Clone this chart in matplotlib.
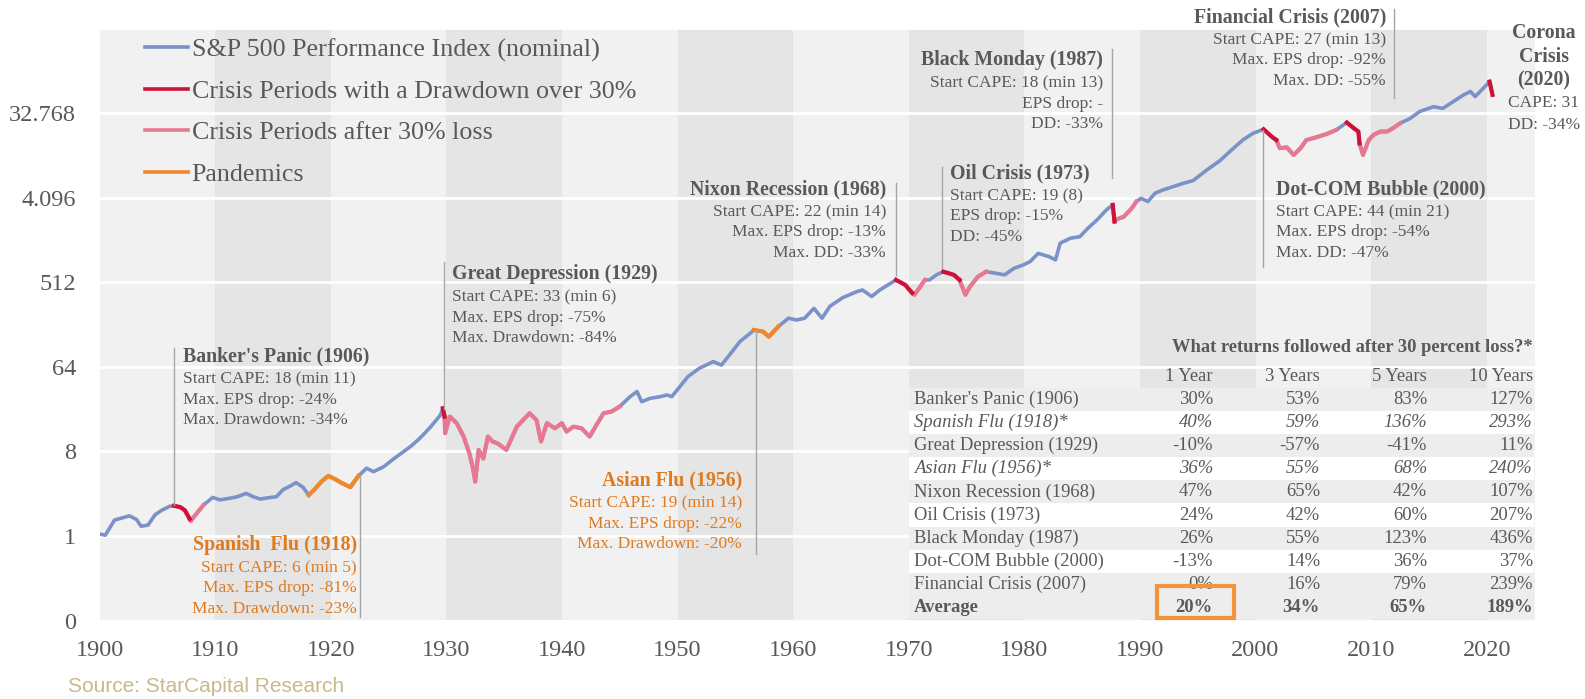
import matplotlib
matplotlib.use("Agg")
import matplotlib.pyplot as plt
from matplotlib.lines import Line2D
from matplotlib.patches import Rectangle
import numpy as np

plt.rcParams['font.family'] = ['Liberation Serif', 'DejaVu Serif']

# S&P 500 performance index (nominal)
years = [1900.0, 1900.5, 1901.3, 1901.9, 1902.6, 1903.2, 1903.6, 1904.2, 1904.8, 1905.4,
         1906.1, 1906.45, 1907.0, 1907.4, 1907.8, 1907.9, 1908.3, 1909.0, 1909.8, 1910.4,
         1911.3, 1911.9, 1912.7, 1913.3, 1913.9, 1914.7, 1915.3, 1915.9, 1916.5, 1917.0,
         1917.6, 1918.1, 1918.6, 1919.2, 1919.8, 1920.4, 1920.9, 1921.7, 1922.1, 1922.4,
         1923.1, 1923.7, 1924.6, 1925.4, 1926.3, 1926.9, 1927.7, 1928.6, 1929.5, 1929.7,
         1929.85, 1929.9, 1930.3, 1930.9, 1931.5, 1932.0, 1932.3, 1932.5, 1932.8, 1933.2,
         1933.6, 1934.0, 1934.4, 1935.2, 1936.1, 1937.2, 1937.8, 1938.2, 1938.7, 1939.4,
         1940.0, 1940.4, 1941.0, 1941.7, 1942.4, 1942.9, 1943.6, 1944.3, 1945.0, 1945.9,
         1946.5, 1946.9, 1947.6, 1948.5, 1949.1, 1949.5, 1950.1, 1950.9, 1951.9, 1953.1,
         1953.8, 1954.5, 1955.4, 1956.3, 1956.6, 1957.4, 1957.9, 1958.7, 1959.6, 1960.3,
         1961.0, 1961.8, 1962.5, 1963.2, 1964.3, 1965.5, 1966.0, 1966.8, 1967.5, 1968.2,
         1968.9, 1969.7, 1970.3, 1970.5, 1971.0, 1971.4, 1971.8, 1972.4, 1973.0, 1973.9,
         1974.4, 1974.9, 1975.3, 1976.0, 1976.7, 1977.6, 1978.3, 1979.1, 1979.9, 1980.5,
         1981.2, 1982.1, 1982.7, 1983.1, 1984.0, 1984.8, 1985.5, 1986.3, 1987.1, 1987.65,
         1987.8, 1988.0, 1988.6, 1989.3, 1989.7, 1990.1, 1990.7, 1991.3, 1992.0, 1992.9,
         1993.8, 1994.6, 1995.8, 1996.9, 1998.1, 1998.9, 1999.8, 2000.7, 2001.4, 2001.8,
         2002.1, 2002.7, 2003.3, 2003.9, 2004.4, 2005.3, 2006.2, 2007.0, 2007.9, 2008.5,
         2008.9, 2009.0, 2009.3, 2009.8, 2010.2, 2010.8, 2011.4, 2011.9, 2012.5, 2013.4,
         2014.2, 2015.4, 2016.2, 2017.1, 2018.0, 2018.6, 2019.0, 2019.7, 2020.25, 2020.5]
index_values = [1.05, 1.02, 1.48, 1.55, 1.64, 1.50, 1.27, 1.31, 1.68, 1.89,
                2.08, 2.10, 2.03, 1.87, 1.52, 1.45, 1.68, 2.14, 2.58, 2.43,
                2.53, 2.62, 2.85, 2.62, 2.48, 2.57, 2.62, 3.14, 3.41, 3.71,
                3.32, 2.73, 3.14, 3.81, 4.38, 4.03, 3.71, 3.32, 3.89, 4.38,
                5.28, 4.86, 5.50, 6.59, 7.94, 9.00, 11.0, 14.4, 19.6, 23.1,
                18.8, 12.5, 18.8, 16.0, 11.5, 7.6, 5.3, 3.8, 8.3, 6.7,
                11.5, 10.2, 9.8, 8.3, 14.7, 20.4, 17.3, 10.2, 16.0, 14.1,
                16.0, 13.0, 14.7, 14.1, 11.5, 14.7, 20.4, 21.3, 24.1, 30.7,
                34.8, 27.1, 29.4, 30.7, 32.0, 30.7, 37.8, 50.2, 61.8, 72.5,
                66.7, 85.6, 119, 146, 158, 152, 134, 171, 211, 202,
                211, 269, 211, 284, 350, 405, 422, 360, 422, 478,
                541, 478, 393, 375, 458, 541, 541, 613, 662, 613,
                541, 375, 458, 588, 662, 635, 613, 719, 781, 849,
                1038, 962, 885, 1333, 1510, 1563, 1924, 2369, 3019, 3420,
                2272, 2400, 2556, 3147, 3717, 4011, 3717, 4545, 4939, 5367,
                5833, 6208, 8080, 10085, 13777, 16845, 19890, 21917, 18300, 16845,
                13777, 14067, 11666, 13777, 16845, 18050, 19620, 21620, 25880, 22540,
                20740, 15500, 11666, 16845, 19080, 20740, 20740, 22540, 25350, 28720,
                33920, 38160, 36610, 43240, 51070, 55490, 48980, 59880, 70700, 51070]

red_periods = [(1906.45, 1907.8), (1929.7, 1929.85), (1968.9, 1970.3), (1973.0, 1974.4),
               (1987.65, 1987.8), (2000.7, 2001.8), (2007.9, 2009.0), (2020.25, 2020.5)]
pink_periods = [(1907.8, 1909.0), (1929.85, 1945.0), (1970.3, 1971.4), (1974.4, 1976.7),
                (1987.8, 1989.7), (2001.8, 2007.0), (2009.0, 2012.5)]
pandemic_periods = [(1918.1, 1922.4), (1956.6, 1958.7)]

legend_labels = ['S&P 500 Performance Index (nominal)', 'Crisis Periods with a Drawdown over 30%',
                 'Crisis Periods after 30% loss', 'Pandemics']

y_ticks = [0.125, 1, 8, 64, 512, 4096, 32768]
y_tick_labels = ['0', '1', '8', '64', '512', '4.096', '32.768']
x_ticks = list(range(1900, 2021, 10))

# table "What returns followed after 30 percent loss?*"
table_events = ["Banker's Panic (1906)", "Spanish Flu (1918)*", "Great Depression (1929)",
                "Asian Flu (1956)*", "Nixon Recession (1968)", "Oil Crisis (1973)",
                "Black Monday (1987)", "Dot-COM Bubble (2000)", "Financial Crisis (2007)", "Average"]
table_cols = ['1 Year', '3 Years', '5 Years', '10 Years']
ret_1y = ['30%', '40%', '-10%', '36%', '47%', '24%', '26%', '-13%', '0%', '20%']
ret_3y = ['53%', '59%', '-57%', '55%', '65%', '42%', '55%', '14%', '16%', '34%']
ret_5y = ['83%', '136%', '-41%', '68%', '42%', '60%', '123%', '36%', '79%', '65%']
ret_10y = ['127%', '293%', '11%', '240%', '107%', '207%', '436%', '37%', '239%', '189%']

BLUE = '#7a92c8'
RED = '#d20f37'
PINK = '#e87891'
ORANGE = '#f08728'
ORANGE_TXT = '#e07a1f'
GREY_TXT = '#595959'

W, H = 1585, 699
fig = plt.figure(figsize=(W / 100, H / 100), dpi=100)
ax = fig.add_axes([99.5 / W, 1 - 620.6 / H, (1535 - 99.5) / W, (620.6 - 30) / H])
ax.set_facecolor('#f1f1f1')
ax.set_yscale('log', base=2)
ax.set_xlim(1900, 1900 + (1535 - 99.5) / 11.56)
ax.set_ylim(2 ** -3, 2 ** 17.94)
for d in range(1910, 2020, 20):
    ax.axvspan(d, d + 10, color='#e5e5e5', lw=0, zorder=0)
ax.set_yticks(y_ticks)
ax.set_yticklabels(y_tick_labels)
ax.set_xticks(x_ticks)
ax.yaxis.grid(True, color='white', lw=2, zorder=1)
ax.set_axisbelow(True)
ax.minorticks_off()
for s in ax.spines.values():
    s.set_visible(False)
ax.tick_params(length=0, labelsize=17.5, labelcolor=GREY_TXT)
ax.tick_params(axis='x', pad=14)
ax.tick_params(axis='y', pad=17)

yrs = np.array(years)
vals = np.array(index_values)
ax.plot(yrs, vals, color=BLUE, lw=2.6, zorder=3, solid_joinstyle='round')
for periods, col in [(pink_periods, PINK), (red_periods, RED), (pandemic_periods, ORANGE)]:
    for a, b in periods:
        m = (yrs >= a - 1e-6) & (yrs <= b + 1e-6)
        ax.plot(yrs[m], vals[m], color=col, lw=3, zorder=4, solid_joinstyle='round')

handles = [Line2D([], [], color=c, lw=2.6) for c in [BLUE, RED, PINK, ORANGE]]
leg = ax.legend(handles, legend_labels, loc='upper left', bbox_to_anchor=(145 / W, 1 - 38 / H),
                bbox_transform=fig.transFigure, frameon=False, prop={'size': 18.7},
                handlelength=1.65, handletextpad=0.15, labelspacing=0.7,
                borderpad=0, borderaxespad=0)
for t in leg.get_texts():
    t.set_color(GREY_TXT)

# overlay in pixel coordinates for notes and table
ov = fig.add_axes([0, 0, 1, 1])
ov.set_xlim(0, W)
ov.set_ylim(H, 0)
ov.axis('off')

# (title, body, colour, text x, align, title y, leader x, leader y0, leader y1)
notes = [
    ("Banker's Panic (1906)", ['Start CAPE: 18 (min 11)', 'Max. EPS drop: -24%', 'Max. Drawdown: -34%'],
     GREY_TXT, 183, 'left', 356, 174, 348, 505),
    ('Spanish  Flu (1918)', ['Start CAPE: 6 (min 5)', 'Max. EPS drop: -81%', 'Max. Drawdown: -23%'],
     ORANGE_TXT, 357, 'right', 545, 359.5, 476, 617),
    ('Great Depression (1929)', ['Start CAPE: 33 (min 6)', 'Max. EPS drop: -75%', 'Max. Drawdown: -84%'],
     GREY_TXT, 452, 'left', 274, 444, 262, 409),
    ('Asian Flu (1956)', ['Start CAPE: 19 (min 14)', 'Max. EPS drop: -22%', 'Max. Drawdown: -20%'],
     ORANGE_TXT, 742, 'right', 480, 756, 330, 554),
    ('Nixon Recession (1968)', ['Start CAPE: 22 (min 14)', 'Max. EPS drop: -13%', 'Max. DD: -33%'],
     GREY_TXT, 886, 'right', 189, 895.7, 183, 276),
    ('Oil Crisis (1973)', ['Start CAPE: 19 (8)', 'EPS drop: -15%', 'DD: -45%'],
     GREY_TXT, 950, 'left', 173, 941.7, 167, 268),
    ('Black Monday (1987)', ['Start CAPE: 18 (min 13)', 'EPS drop: -', 'DD: -33%'],
     GREY_TXT, 1103, 'right', 60, 1111.7, 49, 178),
    ('Financial Crisis (2007)', ['Start CAPE: 27 (min 13)', 'Max. EPS drop: -92%', 'Max. DD: -55%'],
     GREY_TXT, 1386, 'right', 17, 1394, 9, 98),
    ('Dot-COM Bubble (2000)', ['Start CAPE: 44 (min 21)', 'Max. EPS drop: -54%', 'Max. DD: -47%'],
     GREY_TXT, 1276, 'left', 189, 1263.3, 130, 267),
]
for title, body, col, tx, ha, ty, lx, ly0, ly1 in notes:
    ov.plot([lx, lx], [ly0, ly1], color='#a6a6a6', lw=1, zorder=2)
    ov.text(tx, ty, title, ha=ha, va='center', fontsize=14.3, fontweight='bold', color=col)
    for off, line in zip([23, 43.5, 64], body):
        ov.text(tx, ty + off, line, ha=ha, va='center', fontsize=12.5, color=col)

for ty, line in zip([33, 57, 80], ['Corona', 'Crisis', '(2020)']):
    ov.text(1544, ty, line, ha='center', va='center', fontsize=14.3, fontweight='bold', color=GREY_TXT)
for ty, line in zip([103, 125], ['CAPE: 31', 'DD: -34%']):
    ov.text(1544, ty, line, ha='center', va='center', fontsize=12.5, color=GREY_TXT)

# table
tab_left, tab_right = 909, 1534
col_x = [1213, 1320, 1427, 1533]
row_y0, row_h = 399.5, 23.1
ov.text(1533, 348, 'What returns followed after 30 percent loss?*', ha='right', va='center',
        fontsize=13.3, fontweight='bold', color=GREY_TXT)
for cx, c in zip(col_x, table_cols):
    ov.text(cx, 376.5, c, ha='right', va='center', fontsize=13.4, color=GREY_TXT)
for i, ev in enumerate(table_events):
    cy = row_y0 + i * row_h
    bg = '#ededed' if i % 2 == 0 or i == len(table_events) - 1 else 'white'
    ov.add_patch(Rectangle((tab_left, cy - row_h / 2), tab_right - tab_left, row_h,
                           facecolor=bg, edgecolor='none', zorder=1))
    style = 'italic' if ev.endswith('*') else 'normal'
    weight = 'bold' if ev == 'Average' else 'normal'
    ov.text(914, cy, ev, ha='left', va='center', fontsize=13.4, style=style,
            fontweight=weight, color=GREY_TXT, zorder=3)
    for cx, col in zip(col_x, [ret_1y, ret_3y, ret_5y, ret_10y]):
        ov.text(cx, cy, col[i], ha='right', va='center', fontsize=13.4, style=style,
                fontweight=weight, color=GREY_TXT, zorder=3)
ov.add_patch(Rectangle((1157, 586), 77, 32, facecolor='none', edgecolor='#f5923e', lw=3, zorder=4))

fig.text(68 / W, 1 - 687 / H, 'Source: StarCapital Research', ha='left', va='center',
         fontsize=15, color='#c8b98c', family='Liberation Sans')

fig.savefig('out.png', dpi=100)
